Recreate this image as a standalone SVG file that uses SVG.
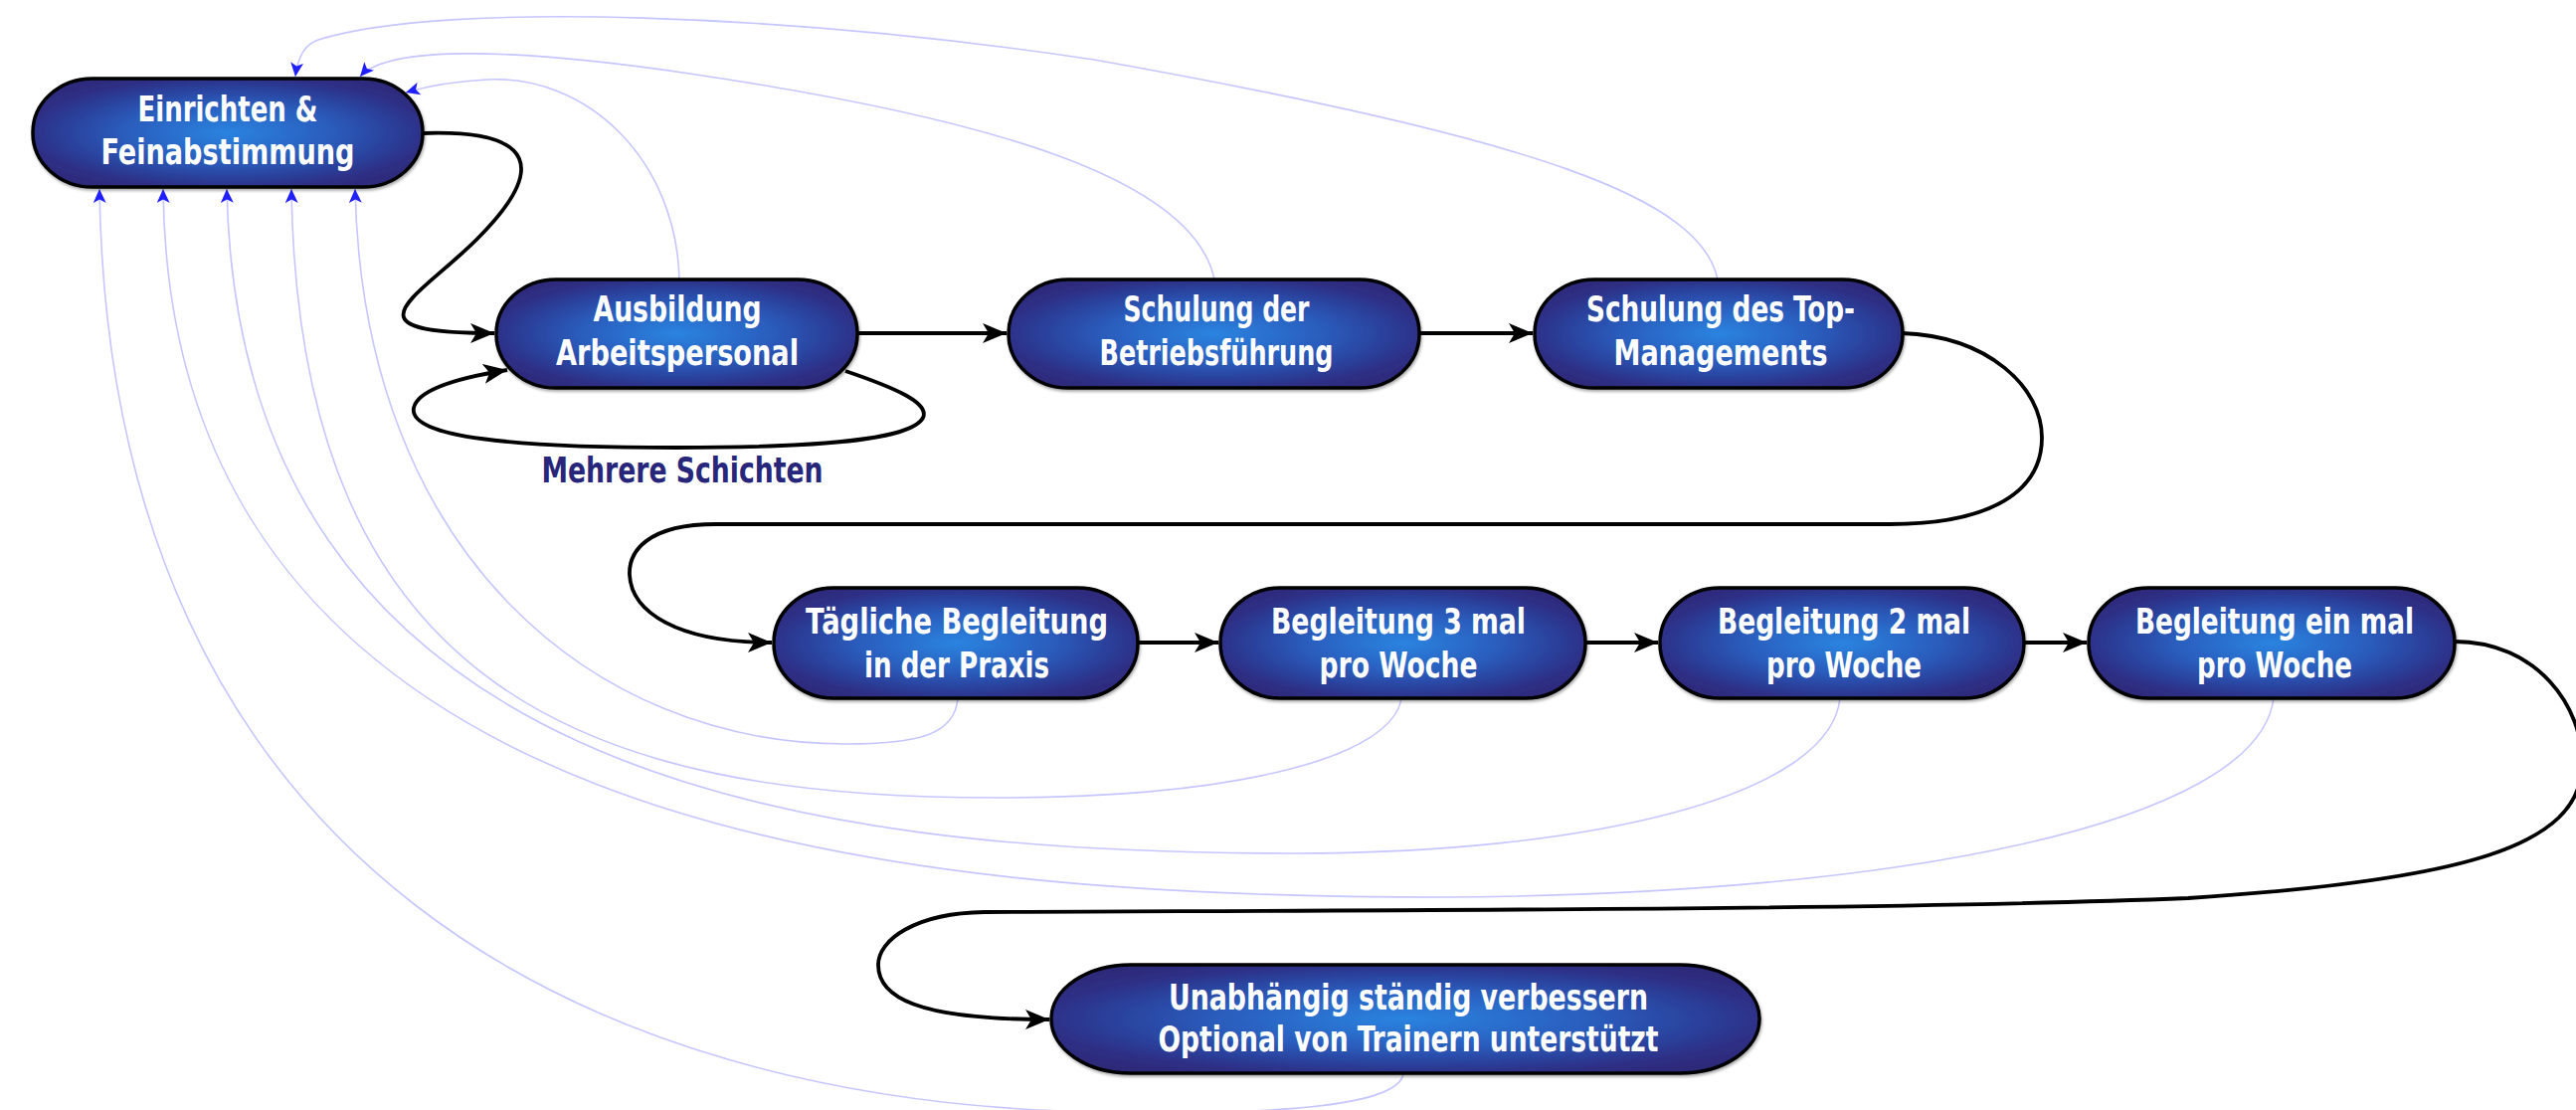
<svg xmlns="http://www.w3.org/2000/svg" width="2590" height="1116" viewBox="0 0 2590 1116">
<defs>
<radialGradient id="nodeFill" cx="0.5" cy="0.5" r="0.6">
<stop offset="0" stop-color="#2a84e0"/>
<stop offset="0.45" stop-color="#2a5cbc"/>
<stop offset="0.85" stop-color="#2d2f86"/>
<stop offset="1" stop-color="#2d2a7a"/>
</radialGradient>
<filter id="shadow" x="-5%" y="-10%" width="110%" height="125%">
<feDropShadow dx="1" dy="2" stdDeviation="1.5" flood-color="#000" flood-opacity="0.35"/>
</filter>
<marker id="arrowBlack" markerUnits="userSpaceOnUse" markerWidth="24" markerHeight="20" refX="24" refY="10" orient="auto">
<path d="M0,0 L24,10 L0,20 L6,10 z" fill="#000"/>
</marker>
<marker id="arrowBlue" markerUnits="userSpaceOnUse" markerWidth="14" markerHeight="13" refX="14" refY="6.5" orient="auto">
<path d="M0,0 L14,6.5 L0,13 L3.5,6.5 z" fill="#1f1fff"/>
</marker>
</defs>
<style>
.node rect{fill:url(#nodeFill);stroke:#000;stroke-width:3.5;filter:url(#shadow)}
.node text{fill:#fff;font-family:"Liberation Sans Narrow","DejaVu Sans Condensed","Liberation Sans",Arial,sans-serif;font-weight:bold;font-size:35px;text-anchor:middle}
.flow{fill:none;stroke:#000;stroke-width:3.8;marker-end:url(#arrowBlack)}
.back{fill:none;stroke:#c6c6ff;stroke-width:1.6;marker-end:url(#arrowBlue)}
.label{fill:#27267a;font-family:"DejaVu Sans Condensed","Liberation Sans","DejaVu Sans",Arial,sans-serif;font-weight:bold;font-size:35px;text-anchor:middle}
</style>
<rect width="2590" height="1116" fill="#fff"/>
<g id="connectors">
<path class="back" d="M683,281 C680,160 590,75 490,80 C450,82 425,88 408,93"/>
<path class="back" d="M1221,281 C1200,180 1000,120 700,75 C520,48 390,45 362,77"/>
<path class="back" d="M1727,281 C1710,200 1550,140 1100,60 C800,15 450,0 320,40 C305,45 299,60 297,77"/>
<path class="back" d="M963,702 C960,740 920,748 850,748 C600,748 365,560 357,190"/>
<path class="back" d="M1409,702 C1400,760 1250,802 1000,802 C600,802 300,700 293,190"/>
<path class="back" d="M1850,702 C1840,800 1600,858 1300,858 C800,858 240,780 228,190"/>
<path class="back" d="M2286,702 C2270,830 1900,900 1450,902 C900,902 170,840 164,190"/>
<path class="back" d="M1411,1080 C1405,1110 1300,1122 1100,1118 C600,1108 110,880 100,190"/>
<path class="flow" d="M425,134 C540,130 550,170 480,240 C420,300 340,335 497,335"/>
<path class="flow" d="M850,373 C900,390 935,405 928,420 C915,445 800,450 680,450 C520,450 410,440 416,410 C420,392 460,380 510,372"/>
<path class="flow" d="M862,335 L1012,335"/>
<path class="flow" d="M1427,335 L1541,335"/>
<path class="flow" d="M1912,335 C2000,338 2053,390 2053,440 C2053,495 2000,527 1900,527 L720,527 C650,527 632,555 633,578 C635,615 680,646 776,646"/>
<path class="flow" d="M1144,646 L1225,646"/>
<path class="flow" d="M1594,646 L1667,646"/>
<path class="flow" d="M2035,646 L2098,646"/>
<path class="flow" d="M2468,645 C2550,645 2598,710 2596,770 C2594,850 2480,885 2200,903 C1900,915 1400,915 990,917 C920,918 883,945 883,970 C883,1002 920,1025 1055,1025"/>
<text class="label" x="686" y="485" textLength="283" lengthAdjust="spacingAndGlyphs">Mehrere Schichten</text>
</g>
<g id="n1" class="node">
<rect x="33" y="79" width="392" height="109" rx="60" ry="54"/>
<text x="229" y="122" textLength="181" lengthAdjust="spacingAndGlyphs">Einrichten &amp;</text>
<text x="229" y="165" textLength="255" lengthAdjust="spacingAndGlyphs">Feinabstimmung</text>
</g>
<g id="n2" class="node">
<rect x="499" y="281" width="363" height="109" rx="60" ry="54"/>
<text x="681" y="323" textLength="169" lengthAdjust="spacingAndGlyphs">Ausbildung</text>
<text x="681" y="367" textLength="244" lengthAdjust="spacingAndGlyphs">Arbeitspersonal</text>
</g>
<g id="n3" class="node">
<rect x="1014" y="281" width="413" height="109" rx="60" ry="54"/>
<text x="1223" y="323" textLength="187" lengthAdjust="spacingAndGlyphs">Schulung der</text>
<text x="1223" y="367" textLength="235" lengthAdjust="spacingAndGlyphs">Betriebsführung</text>
</g>
<g id="n4" class="node">
<rect x="1543" y="281" width="370" height="109" rx="60" ry="54"/>
<text x="1730" y="323" textLength="270" lengthAdjust="spacingAndGlyphs">Schulung des Top-</text>
<text x="1730" y="367" textLength="215" lengthAdjust="spacingAndGlyphs">Managements</text>
</g>
<g id="n5" class="node">
<rect x="778" y="591" width="366" height="111" rx="60" ry="55"/>
<text x="962" y="637" textLength="304" lengthAdjust="spacingAndGlyphs">Tägliche Begleitung</text>
<text x="962" y="681" textLength="186" lengthAdjust="spacingAndGlyphs">in der Praxis</text>
</g>
<g id="n6" class="node">
<rect x="1227" y="591" width="367" height="111" rx="60" ry="55"/>
<text x="1406" y="637" textLength="256" lengthAdjust="spacingAndGlyphs">Begleitung 3 mal</text>
<text x="1406" y="681" textLength="159" lengthAdjust="spacingAndGlyphs">pro Woche</text>
</g>
<g id="n7" class="node">
<rect x="1669" y="591" width="366" height="111" rx="60" ry="55"/>
<text x="1854" y="637" textLength="254" lengthAdjust="spacingAndGlyphs">Begleitung 2 mal</text>
<text x="1854" y="681" textLength="156" lengthAdjust="spacingAndGlyphs">pro Woche</text>
</g>
<g id="n8" class="node">
<rect x="2100" y="591" width="368" height="111" rx="60" ry="55"/>
<text x="2287" y="637" textLength="280" lengthAdjust="spacingAndGlyphs">Begleitung ein mal</text>
<text x="2287" y="681" textLength="156" lengthAdjust="spacingAndGlyphs">pro Woche</text>
</g>
<g id="n9" class="node">
<rect x="1057" y="970" width="712" height="109" rx="80" ry="54"/>
<text x="1416" y="1015" textLength="482" lengthAdjust="spacingAndGlyphs">Unabhängig ständig verbessern</text>
<text x="1416" y="1057" textLength="503" lengthAdjust="spacingAndGlyphs">Optional von Trainern unterstützt</text>
</g>
</svg>
